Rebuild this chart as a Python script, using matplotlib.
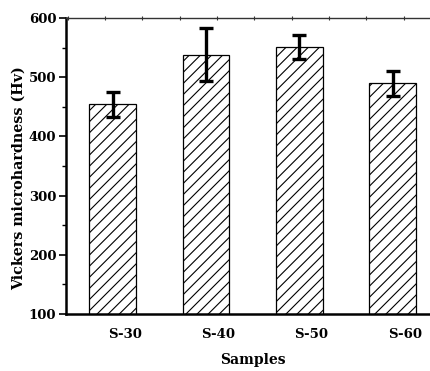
import numpy as np
import matplotlib
matplotlib.use("Agg")
import matplotlib.pyplot as plt
from matplotlib.ticker import MultipleLocator

# 数据
samples = ["S-30", "S-40", "S-50", "S-60"]
hardness = [454, 538, 551, 490]
errors = [21, 45, 21, 21]


def main():
    plt.rcParams["font.family"] = ["DejaVu Serif"]
    plt.rcParams["font.weight"] = "bold"
    plt.rcParams["hatch.linewidth"] = 0.8

    fig = plt.figure(figsize=(4.31, 3.71), dpi=100)
    ax = fig.add_axes([0.153, 0.1536, 0.866, 0.798])

    x = np.arange(1, len(samples) + 1)
    ax.bar(x, hardness, width=0.5, color="white", edgecolor="black",
           linewidth=0.9, hatch="///", zorder=2)
    ax.errorbar(x, hardness, yerr=errors, fmt="none", ecolor="black",
                elinewidth=2.4, capsize=4.8, capthick=2.4, zorder=3)

    ax.set_xlim(0.5, 4.5)
    ax.set_ylim(100, 600)
    # 标签略微右移（与原图一致）
    ax.set_xticks(x + 0.13)
    ax.set_xticklabels(samples, fontsize=9.5, fontweight="bold")
    ax.tick_params(axis="x", which="major", length=0, pad=10)
    ax.xaxis.set_minor_locator(MultipleLocator(0.4, offset=0.12))
    ax.tick_params(axis="x", which="minor", bottom=False, top=True,
                   direction="inout", length=3, width=0.8, color="#333333")

    ax.yaxis.set_major_locator(MultipleLocator(100))
    ax.yaxis.set_minor_locator(MultipleLocator(50))
    ax.tick_params(axis="y", which="major", direction="out", length=5,
                   width=1.2, labelsize=9.5, pad=2)
    ax.tick_params(axis="y", which="minor", direction="out", length=3, width=1.0)
    for lab in ax.get_yticklabels():
        lab.set_fontweight("bold")

    ax.spines["right"].set_visible(False)
    ax.spines["left"].set_linewidth(1.8)
    ax.spines["bottom"].set_linewidth(1.8)
    ax.spines["top"].set_linewidth(1.0)
    ax.spines["top"].set_color("#333333")

    ax.set_xlabel("Samples", fontsize=10, fontweight="bold", labelpad=9)
    ax.set_ylabel("Vickers microhardness (Hv)", fontsize=10.3, fontweight="bold")
    ax.yaxis.set_label_coords(-0.108, 0.46)

    fig.savefig("out.png", dpi=100)


if __name__ == "__main__":
    main()
